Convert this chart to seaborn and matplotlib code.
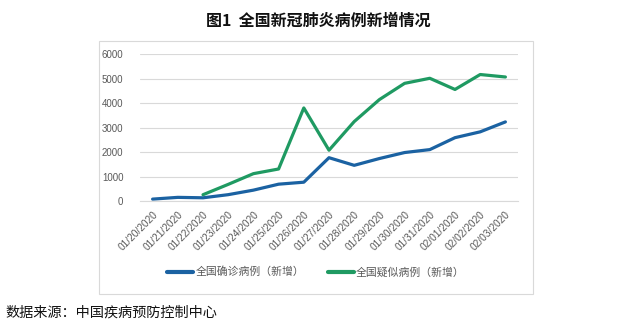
import matplotlib
matplotlib.use("Agg")
import matplotlib.pyplot as plt
import seaborn as sns
import pandas as pd
import numpy as np
from matplotlib.patches import Rectangle

# Daily new cases, 2020-01-20 .. 2020-02-03
dates = ["01/20/2020", "01/21/2020", "01/22/2020", "01/23/2020", "01/24/2020",
         "01/25/2020", "01/26/2020", "01/27/2020", "01/28/2020", "01/29/2020",
         "01/30/2020", "01/31/2020", "02/01/2020", "02/02/2020", "02/03/2020"]
confirmed = [77, 149, 131, 259, 444, 688, 769, 1771, 1459, 1737, 1982, 2102, 2590, 2829, 3235]
suspected = [None, None, 257, 680, 1118, 1309, 3806, 2077, 3248, 4148, 4812, 5019, 4562, 5173, 5072]
series_names = ["全国确诊病例（新增）", "全国疑似病例（新增）"]
y_ticks = [0, 1000, 2000, 3000, 4000, 5000, 6000]

colors = ["#1b62a2", "#1f9a62"]
cjk = ["Noto Sans CJK SC", "DejaVu Sans"]

sns.set_theme(style="white")
plt.rcParams["font.family"] = ["Liberation Sans", "Noto Sans CJK SC", "DejaVu Sans"]

rows = []
for name, vals in zip(series_names, [confirmed, suspected]):
    for i, (d, v) in enumerate(zip(dates, vals)):
        if v is not None:
            rows.append({"idx": i, "date": d, "value": v, "series": name})
df = pd.DataFrame(rows)

fig = plt.figure(figsize=(6.36, 3.30), dpi=100)
ax = fig.add_axes([140 / 636, 1 - 201 / 330, (518 - 140) / 636, (201 - 54.3) / 330])

sns.lineplot(data=df, x="idx", y="value", hue="series", hue_order=series_names,
             palette=colors, linewidth=2.3, ax=ax, legend=True)

ax.set_xlim(-0.5, len(dates) - 0.5)
ax.set_ylim(0, 6000)
ax.set_yticks(y_ticks)
ax.set_yticklabels([str(t) for t in y_ticks], fontsize=7, color="#595959")
ax.set_xticks(range(len(dates)))
ax.set_xticklabels(dates, rotation=45, ha="right", rotation_mode="anchor",
                   fontsize=7.3, color="#595959")
ax.set_xticks(np.arange(-0.5, len(dates), 1.0), minor=True)
ax.tick_params(axis="x", which="major", length=0, pad=6)
ax.tick_params(axis="x", which="minor", length=4, width=0.8, color="#d9d9d9", direction="out")
ax.tick_params(axis="y", length=0, pad=12)
ax.set_xlabel("")
ax.set_ylabel("")
ax.grid(axis="y", color="#d9d9d9", linewidth=0.8)
ax.set_axisbelow(True)
for s in ["top", "right", "left"]:
    ax.spines[s].set_visible(False)
ax.spines["bottom"].set_color("#d9d9d9")
ax.spines["bottom"].set_linewidth(0.8)

handles, labels = ax.get_legend_handles_labels()
ax.get_legend().remove()
leg = fig.legend(handles, labels, loc="center", bbox_to_anchor=(316 / 636, 1 - 272 / 330),
                 ncol=2, frameon=False, handlelength=2.4, columnspacing=2.2,
                 handletextpad=0.2, prop={"family": cjk, "size": 7.8})
for t in leg.get_texts():
    t.set_color("#595959")
for h in leg.legend_handles:
    h.set_linewidth(3)

# chart frame
fig.patches.append(Rectangle((99 / 636, 1 - 294 / 330), (533 - 99) / 636, (294 - 41) / 330,
                             transform=fig.transFigure, fill=False,
                             edgecolor="#d9d9d9", linewidth=0.8))

fig.text(318 / 636, 1 - 21 / 330, "图1  全国新冠肺炎病例新增情况", ha="center", va="center",
         fontsize=11.5, fontweight="bold", family=cjk, color="#111111")
fig.text(5 / 636, 1 - 313 / 330, "数据来源：中国疾病预防控制中心", ha="left", va="center",
         fontsize=10.2, family=cjk, color="#111111")

fig.savefig("out.png", dpi=100)
